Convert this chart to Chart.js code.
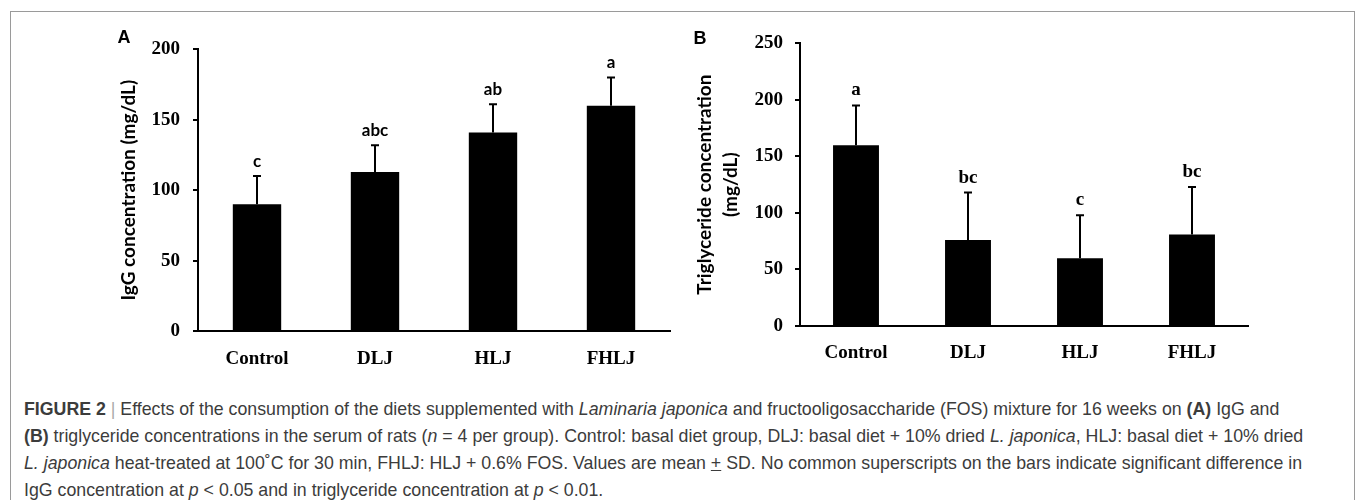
<!DOCTYPE html>
<html>
<head>
<meta charset="utf-8">
<script src="https://cdn.jsdelivr.net/npm/chart.js@4.4.0/dist/chart.umd.min.js"></script>
<style>
  body { margin: 0; width: 1357px; height: 500px; background: #fff; position: relative; overflow: hidden; }
  #frame { position: absolute; left: 10px; top: 11px; width: 1345px; height: 520px; border: 1px solid #9a9a9a; box-sizing: border-box; }
  .panel { position: absolute; }
  #caption { position: absolute; left: 24px; top: 396px; font-family: "Liberation Sans", Arial, sans-serif; font-size: 17px; color: #3c3c3c; line-height: 27px; white-space: nowrap; }
  #caption .sep { color: #aaa; font-weight: normal; }
</style>
</head>
<body>
<div id="frame"></div>
<div class="panel" style="left:100px;top:25px;"><canvas id="chartA" width="600" height="360"></canvas></div>
<div class="panel" style="left:680px;top:20px;"><canvas id="chartB" width="600" height="360"></canvas></div>
<div id="caption">
  <div class="ln"><b>FIGURE 2</b> <span class="sep">|</span> Effects of the consumption of the diets supplemented with <i>Laminaria japonica</i> and fructooligosaccharide (FOS) mixture for 16 weeks on <b>(A)</b> IgG and</div>
  <div class="ln"><b>(B)</b> triglyceride concentrations in the serum of rats (<i>n</i> = 4 per group). Control: basal diet group, DLJ: basal diet + 10% dried <i>L. japonica</i>, HLJ: basal diet + 10% dried</div>
  <div class="ln"><i>L. japonica</i> heat-treated at 100˚C for 30 min, FHLJ: HLJ + 0.6% FOS. Values are mean <u>+</u> SD. No common superscripts on the bars indicate significant difference in</div>
  <div class="ln">IgG concentration at <i>p</i> &lt; 0.05 and in triglyceride concentration at <i>p</i> &lt; 0.01.</div>
</div>
<script>
// groups (same for both panels)
const groups = ['Control', 'DLJ', 'HLJ', 'FHLJ'];

// panel A: IgG (mg/dL)
const iggMean = [90, 113, 141, 160];
const iggSD = [20, 19, 20, 20];
const iggLetters = ['c', 'abc', 'ab', 'a'];
const iggTicks = [0, 50, 100, 150, 200];

// panel B: triglyceride (mg/dL)
const tgMean = [160, 76, 60, 81];
const tgSD = [35, 42, 38, 42];
const tgLetters = ['a', 'bc', 'c', 'bc'];
const tgTicks = [0, 50, 100, 150, 200, 250];

const serif = '"Liberation Serif", "Times New Roman", serif';
const sans = 'Lato, "Open Sans", sans-serif';

// error bars + significance letters drawn over the bars
const errorBars = {
  id: 'errorBars',
  afterDatasetsDraw(chart, args, opts) {
    const ctx = chart.ctx;
    const y = chart.scales.y;
    const meta = chart.getDatasetMeta(0);
    ctx.save();
    ctx.strokeStyle = '#000';
    ctx.lineWidth = 2;
    meta.data.forEach((bar, i) => {
      const top = y.getPixelForValue(opts.mean[i] + opts.sd[i]);
      ctx.beginPath();
      ctx.moveTo(bar.x, bar.y);
      ctx.lineTo(bar.x, top);
      ctx.moveTo(bar.x - 4, top);
      ctx.lineTo(bar.x + 4, top);
      ctx.stroke();
      ctx.fillStyle = '#000';
      ctx.font = opts.font;
      ctx.textAlign = 'center';
      ctx.textBaseline = 'middle';
      ctx.fillText(opts.letters[i], bar.x, top - 15);
    });
    // panel letter
    ctx.font = 'bold 18px "Liberation Sans", Arial, sans-serif';
    ctx.textAlign = 'center';
    ctx.fillText(opts.panel, opts.panelX, opts.panelY);
    ctx.restore();
  }
};

function makeChart(id, mean, sd, letters, ticks, title, cfg) {
  const yMax = ticks[ticks.length - 1];
  return new Chart(document.getElementById(id), {
    type: 'bar',
    data: {
      labels: groups,
      datasets: [{
        data: mean,
        backgroundColor: '#000',
        borderWidth: 0,
        categoryPercentage: 1,
        barPercentage: 0.41
      }]
    },
    options: {
      responsive: false,
      animation: false,
      layout: { padding: cfg.padding },
      plugins: {
        legend: { display: false },
        tooltip: { enabled: false },
        errorBars: {
          mean: mean, sd: sd, letters: letters, font: cfg.letterFont,
          panel: cfg.panel, panelX: cfg.panelX, panelY: cfg.panelY
        }
      },
      scales: {
        x: {
          grid: { display: false, drawTicks: false },
          border: { display: true, color: '#000', width: 2 },
          ticks: { color: '#000', padding: cfg.xPad, font: { family: serif, weight: 'bold', size: 19 } },
          afterFit: s => { s.height = 54 - cfg.padding.bottom; }
        },
        y: {
          min: 0,
          max: yMax,
          afterBuildTicks: s => { s.ticks = ticks.map(v => ({ value: v })); },
          grid: { drawOnChartArea: false, tickLength: 5, color: '#000', lineWidth: 2 },
          border: { display: true, color: '#000', width: 2 },
          ticks: { color: '#000', padding: cfg.yPad, font: { family: serif, weight: 'bold', size: 19 } },
          title: {
            display: true,
            text: title,
            color: '#000',
            padding: 0,
            font: { family: sans, weight: 'bold', size: 19, lineHeight: cfg.titleLH }
          },
          afterFit: s => { s.width = cfg.yWidth; }
        }
      }
    },
    plugins: [errorBars]
  });
}

makeChart('chartA', iggMean, iggSD, iggLetters, iggTicks, 'IgG concentration (mg/dL)', {
  padding: { left: 17, top: 18, right: 30, bottom: 0 },
  yWidth: 81, yPad: 13, xPad: 17, titleLH: 1.2,
  letterFont: 'bold 17px ' + sans,
  panel: 'A', panelX: 24, panelY: 13
});

makeChart('chartB', tgMean, tgSD, tgLetters, tgTicks, ['Triglyceride concentration', '(mg/dL)'], {
  padding: { left: 12, top: 17, right: 32, bottom: 0 },
  yWidth: 108, yPad: 12, xPad: 16, titleLH: 1.37,
  letterFont: 'bold 19px ' + serif,
  panel: 'B', panelX: 20, panelY: 19
});

// fit the caption so line 1 ends near x=1304 and line 4 near x=625
(function fitCaption() {
  const cap = document.getElementById('caption');
  const lines = cap.querySelectorAll('.ln');
  const w1 = lines[0].scrollWidth, w4 = lines[3].scrollWidth;
  let k = (1304 - 625) / (w1 - w4);
  let x0 = 1304 - w1 * k;
  if (x0 < 12 || x0 > 40) { x0 = 24; k = (1304 - x0) / w1; }
  cap.style.fontSize = (17 * k).toFixed(2) + 'px';
  cap.style.left = x0.toFixed(1) + 'px';
})();
</script>
</body>
</html>
